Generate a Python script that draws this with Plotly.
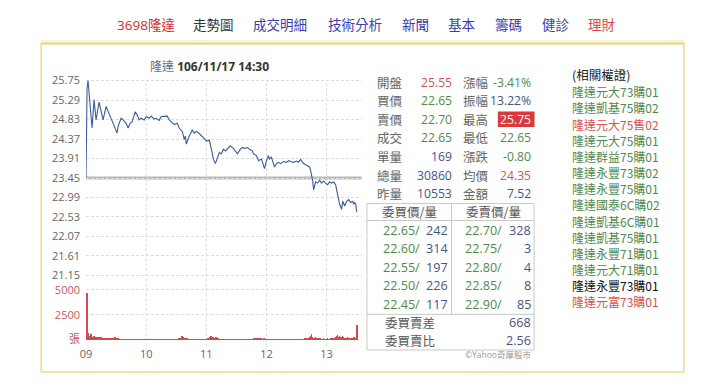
import plotly.graph_objects as go

W, H = 720, 390

def px(x):
    return x / W

def py(y):
    return 1 - y / H

# ---------------- data ----------------
prev_close = 23.45
price_minutes = [0, 1, 2, 3, 6, 8, 10, 13, 15, 17, 20, 23, 26, 28, 31, 32, 35, 37, 40, 42, 44, 46, 49, 51, 53, 55, 58,
                 60, 63, 65, 68, 70, 73, 75, 78, 81, 83, 86, 88, 91, 93, 96, 98, 99, 100, 103, 106, 108, 110, 113, 116,
                 118, 120, 123, 125, 127, 129, 131, 133, 135, 137, 139, 142, 144, 147, 149, 151, 154, 156, 158, 161,
                 163, 166, 167, 170, 172, 175, 177, 178, 180, 182, 183, 185, 186, 188, 190, 192, 194, 197, 200, 202,
                 204, 207, 210, 212, 214, 216, 217, 220, 223, 224, 226, 227, 229, 231, 233, 235, 237, 239, 241, 243,
                 245, 247, 249, 250, 251, 253, 255, 256, 258, 260, 262, 264, 266, 267, 268, 269, 270]
prices = [23.45, 25.55, 25.75, 25.43, 24.63, 25.30, 24.82, 25.24, 25.02, 24.82, 25.14, 24.97, 24.82, 24.71, 24.51,
          24.67, 24.86, 24.82, 24.74, 24.63, 24.74, 24.78, 25.01, 24.94, 24.82, 24.86, 24.82,
          24.90, 24.86, 24.91, 24.84, 24.86, 24.81, 24.90, 24.90, 24.91, 24.82, 24.74, 24.71, 24.74, 24.63, 24.55,
          24.36, 24.44, 24.25, 24.44, 24.58, 24.51, 24.55, 24.50, 24.44,
          24.38, 24.32, 24.34, 24.13, 23.90, 23.79, 23.94, 24.05, 24.02, 24.13, 24.09, 24.17, 24.21, 24.15, 24.09,
          24.02, 24.13, 24.17, 24.15, 24.17,
          24.13, 24.09, 24.02, 23.98, 23.86, 23.90, 23.75, 23.67, 23.86, 23.98, 23.90, 23.94, 23.86, 23.71, 23.79,
          23.82, 23.79, 23.84, 23.82, 23.86,
          23.84, 23.82, 23.85, 23.82, 23.89, 23.82, 23.79, 23.75, 23.71, 23.63, 23.40, 23.17, 23.36, 23.33, 23.40,
          23.33, 23.38, 23.33, 23.29, 23.36,
          23.33, 23.36, 23.29, 23.17, 23.06, 22.83, 22.71, 22.90, 22.79, 22.90, 22.94, 22.87, 22.90, 22.83, 22.87,
          22.83, 22.65]

volumes = [0, 4740, 650, 420, 380, 560, 300, 280, 350, 240,
           310, 220, 260, 330, 180, 240, 200, 170, 210, 150,
           120, 140, 100, 90, 130, 110, 80, 150, 230, 260,
           200, 120, 90, 70, 60, 80, 60, 50, 70, 60,
           50, 60, 40, 70, 50, 60, 40, 50, 30, 60,
           40, 50, 60, 40, 30, 50, 40, 60, 50, 40,
           30, 40, 50, 30, 40, 60, 30, 40, 50, 30,
           40, 30, 50, 40, 30, 40, 60, 30, 50, 40,
           30, 40, 30, 50, 40, 60, 50, 70, 60, 50,
           60, 80, 70, 90, 120, 150, 420, 260, 180, 90,
           70, 120, 80, 60, 70, 50, 60, 40, 50, 60,
           50, 40, 60, 50, 70, 40, 50, 60, 40, 50,
           60, 80, 90, 150, 280, 360, 250, 330, 220, 160,
           280, 120, 90, 70, 60, 80, 60, 50, 70, 50,
           40, 60, 50, 40, 30, 50, 40, 30, 40, 50,
           30, 40, 50, 40, 60, 30, 40, 50, 40, 30,
           40, 50, 30, 40, 60, 50, 70, 90, 130, 160,
           220, 180, 150, 200, 120, 90, 80, 170, 110, 70,
           60, 50, 60, 40, 50, 60, 40, 50, 40, 30,
           40, 50, 40, 30, 50, 40, 30, 40, 50, 40,
           30, 40, 50, 40, 60, 50, 40, 60, 50, 40,
           50, 60, 40, 70, 50, 60, 80, 60, 90, 120,
           150, 110, 180, 250, 380, 560, 320, 200, 160, 260,
           140, 120, 90, 150, 110, 80, 70, 90, 60, 80,
           70, 90, 80, 60, 90, 110, 140, 180, 220, 260,
           380, 470, 330, 420, 300, 250, 340, 280, 200, 150,
           230, 280, 180, 150, 120, 200, 170, 290, 150, 100,
           1440]
volume_minutes = list(range(len(volumes)))

price_ticks = [21.15, 21.61, 22.07, 22.53, 22.99, 23.45, 23.91, 24.37, 24.83, 25.29, 25.75]
volume_ticks = [0, 2500, 5000]
volume_tick_labels = ["張", "2500", "5000"]
hour_ticks = [0, 60, 120, 180, 240]
hour_labels = ["09", "10", "11", "12", "13"]

stock_name = "隆達"
stamp = "106/11/17 14:30"

menu_items = ["3698隆達", "走勢圖", "成交明細", "技術分析", "新聞", "基本", "籌碼", "健診", "理財"]

quote_labels_left = ["開盤", "買價", "賣價", "成交", "單量", "總量", "昨量"]
quote_values_left = ["25.55", "22.65", "22.70", "22.65", "169", "30860", "10553"]
quote_labels_right = ["漲幅", "振幅", "最高", "最低", "漲跌", "均價", "金額"]
quote_values_right = ["-3.41%", "13.22%", "25.75", "22.65", "-0.80", "24.35", "7.52"]

bid_prices = ["22.65", "22.60", "22.55", "22.50", "22.45"]
bid_volumes = [242, 314, 197, 226, 117]
ask_prices = ["22.70", "22.75", "22.80", "22.85", "22.90"]
ask_volumes = [328, 3, 4, 8, 85]
book_summary_labels = ["委買賣差", "委買賣比"]
book_summary_values = ["668", "2.56"]

warrants = ["隆達元大73購01", "隆達凱基75購02", "隆達元大75售02", "隆達元大75購01", "隆達群益75購01",
            "隆達永豐73購02", "隆達永豐75購01", "隆達國泰6C購02", "隆達凱基6C購01", "隆達凱基75購01",
            "隆達永豐71購01", "隆達元大71購01", "隆達永豐73購01", "隆達元富73購01"]

# ---------------- styles ----------------
GREEN = "#4f8a4f"
RED = "#d9534f"
BLUE = "#44538f"
GRAY = "#666666"
FONT = "Open Sans, Noto Sans CJK TC, sans-serif"
CJK = "Noto Sans CJK TC, sans-serif"
NUM = 12.2
LAB = 12.5

menu_colors = ["#e02a2a", "#333333", "#3b3bb0", "#3b3bb0", "#3b3bb0", "#3b3bb0", "#3b3bb0", "#3b3bb0", "#e04848"]
menu_x = [110, 187, 247, 323, 397, 444, 491, 538, 585]
left_value_colors = [RED, GREEN, GREEN, GREEN, BLUE, BLUE, BLUE]
right_value_colors = [GREEN, BLUE, "white", GREEN, GREEN, RED, BLUE]
warrant_colors = [GREEN, GREEN, RED, GREEN, GREEN, GREEN, GREEN, GREEN, GREEN, GREEN, GREEN, GREEN, "#111111", RED]

# ---------------- figure ----------------
fig = go.Figure()
fig.add_trace(go.Scatter(x=price_minutes, y=prices, mode="lines",
                         line=dict(color="#3a5ba0", width=1.1), xaxis="x", yaxis="y",
                         hoverinfo="skip"))
fig.add_trace(go.Bar(x=volume_minutes, y=volumes, marker=dict(color="#d24a4a", line=dict(width=0)),
                     width=0.7, xaxis="x", yaxis="y2", hoverinfo="skip"))

x_dom = [px(80.7), px(358.7)]
fig.update_layout(
    width=W, height=H, margin=dict(l=0, r=0, t=0, b=0),
    paper_bgcolor="white", plot_bgcolor="rgba(0,0,0,0)",
    showlegend=False, bargap=0,
    font=dict(family=FONT, color=GRAY, size=11),
    xaxis=dict(domain=x_dom, range=[0, 275], anchor="y2", tickvals=hour_ticks, ticktext=hour_labels,
               showgrid=False, zeroline=False, showline=False, ticks="",
               tickfont=dict(size=11, color=GRAY, family=FONT), ticklabelstandoff=5),
    yaxis=dict(domain=[py(279.3), py(74.7)], range=[21.104, 25.796], anchor="x",
               tickvals=price_ticks, ticktext=[f"{v:.2f}" for v in price_ticks],
               showgrid=True, gridcolor="#dcdcdc", griddash="3px,2px", gridwidth=1,
               zeroline=False, showline=False, ticks="", ticklabelstandoff=5,
               tickfont=dict(size=11, color=GRAY, family=FONT)),
    yaxis2=dict(domain=[py(345), py(290)], range=[-166, 5195], anchor="x",
                tickvals=volume_ticks, ticktext=volume_tick_labels,
                showgrid=True, gridcolor="#dcdcdc", griddash="3px,2px", gridwidth=1,
                zeroline=False, showline=False, ticks="", ticklabelstandoff=5,
                tickfont=dict(size=11, color="#cc5a5a", family=FONT)),
)

shapes = []
# yellow frame
shapes.append(dict(type="line", xref="paper", yref="paper", x0=px(35), x1=px(684), y0=py(36), y1=py(36),
                   line=dict(color="#f6e6a2", width=1)))
shapes.append(dict(type="line", xref="paper", yref="paper", x0=px(35), x1=px(684), y0=py(38.5), y1=py(38.5),
                   line=dict(color="#ebd06e", width=2)))
for xx in (35.5, 683.5):
    shapes.append(dict(type="line", xref="paper", yref="paper", x0=px(xx), x1=px(xx), y0=py(38), y1=py(376.5),
                       line=dict(color="#f0dc8a", width=1.5)))
shapes.append(dict(type="line", xref="paper", yref="paper", x0=px(35), x1=px(684), y0=py(376.5), y1=py(376.5),
                   line=dict(color="#f0dc8a", width=1.5)))
# vertical hour gridlines
for t in hour_ticks[1:]:
    shapes.append(dict(type="line", xref="x", yref="paper", x0=t, x1=t, y0=py(350), y1=py(76.7),
                       line=dict(color="#dcdcdc", width=1, dash="3px,2px"), layer="below"))
# previous close reference line
shapes.append(dict(type="line", xref="x domain", yref="y", x0=0, x1=1, y0=prev_close, y1=prev_close,
                   line=dict(color="#b9b9b9", width=3), layer="below"))
# red box behind high
shapes.append(dict(type="rect", xref="paper", yref="paper", x0=px(496), x1=px(533), y0=py(124.5), y1=py(108.5),
                   fillcolor="#d93a3a", line=dict(width=0), layer="below"))
# order book frame
BC = "#c8c8c8"
shapes.append(dict(type="rect", xref="paper", yref="paper", x0=px(364), x1=px(532.5), y0=py(354), y1=py(203.3),
                   line=dict(color=BC, width=1)))
shapes.append(dict(type="line", xref="paper", yref="paper", x0=px(364), x1=px(532.5), y0=py(220.7), y1=py(220.7),
                   line=dict(color=BC, width=1)))
shapes.append(dict(type="line", xref="paper", yref="paper", x0=px(364), x1=px(532.5), y0=py(317.3), y1=py(317.3),
                   line=dict(color=BC, width=1)))
shapes.append(dict(type="line", xref="paper", yref="paper", x0=px(449.3), x1=px(449.3), y0=py(317.3), y1=py(203.3),
                   line=dict(color=BC, width=1)))

ann = []

def text(x, y, s, color, size, anchor="left", family=FONT):
    ann.append(dict(x=px(x), y=py(y), xref="paper", yref="paper", text=s, showarrow=False,
                    xanchor=anchor, yanchor="middle", font=dict(color=color, size=size, family=family)))

# header menu
for label, col, xx in zip(menu_items, menu_colors, menu_x):
    text(xx, 20, label, col, 13.5)

# chart title
text(205, 62, f"<span style='color:#5d6d8c'>{stock_name}</span> <b>{stamp}</b>", "#333333", 12, "center")

# quote table
row_y = [78.3, 97.5, 116.6, 135.8, 155, 174, 193]
for i, y in enumerate(row_y):
    text(372.5, y, quote_labels_left[i], "#666666", LAB, family=CJK)
    text(452, y, quote_values_left[i], left_value_colors[i], NUM, "right")
    text(459, y, quote_labels_right[i], "#666666", LAB, family=CJK)
    text(531, y, quote_values_right[i], right_value_colors[i], NUM, "right")

# order book
text(406.7, 211.8, "委買價/量", "#555555", LAB, "center", family=CJK)
text(491.5, 211.8, "委賣價/量", "#555555", LAB, "center", family=CJK)
book_y = [230.7, 249.8, 268.9, 288.1, 307.2]
for i, y in enumerate(book_y):
    text(378.5, y, bid_prices[i] + "/", GREEN, 12.6)
    text(447.5, y, str(bid_volumes[i]), BLUE, 12.6, "right")
    text(461, y, ask_prices[i] + "/", GREEN, 12.6)
    text(531, y, str(ask_volumes[i]), BLUE, 12.6, "right")
for lab, val, y in zip(book_summary_labels, book_summary_values, [326, 344]):
    text(380.5, y, lab, "#555555", LAB, family=CJK)
    text(531, y, val, BLUE, 12.6, "right")
text(531, 358.5, "©Yahoo奇摩股市", "#999999", 8.5, "right")

# warrant list
text(569, 70, "(相關權證)", "#222222", 12.5, family=CJK)
for i, w in enumerate(warrants):
    text(569, 88.3 + i * 16.62, w, warrant_colors[i], 12, family=CJK)

fig.update_layout(shapes=shapes, annotations=ann)
fig.write_html("out.html")
